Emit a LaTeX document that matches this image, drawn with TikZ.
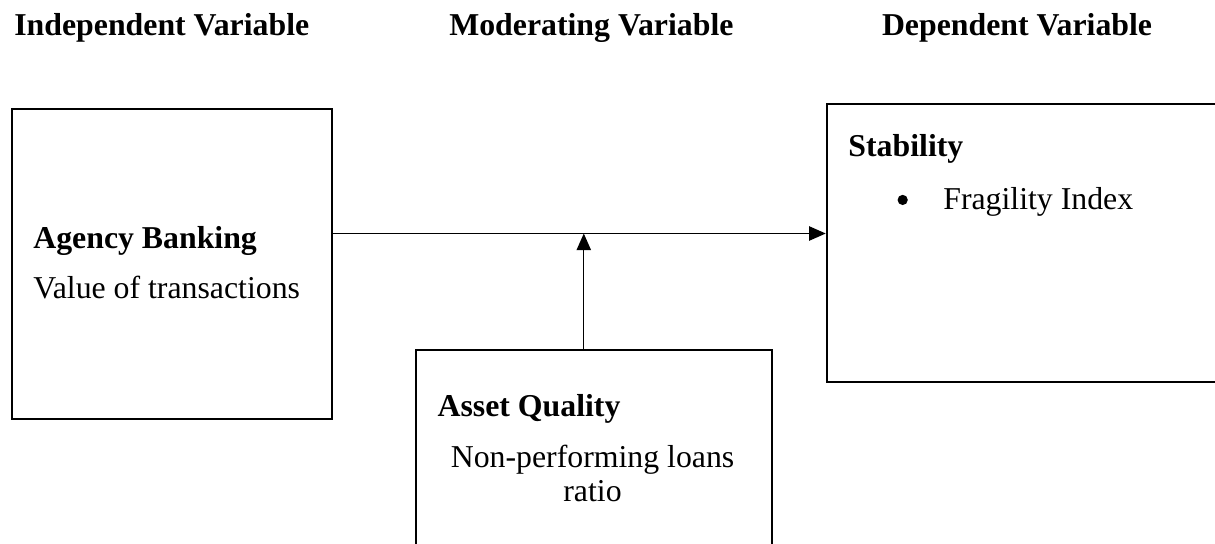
\documentclass[tikz,border=0pt]{standalone}
\usepackage{fontspec}
\setmainfont{Liberation Serif}
\usetikzlibrary{arrows.meta}

\tikzset{
  varbox/.style={draw, line width=0.8pt, inner sep=0pt},
  head/.style={anchor=base west, inner sep=0pt, font=\fontsize{12.4}{14}\selectfont\bfseries},
  txt/.style={anchor=base west, inner sep=0pt, font=\fontsize{12.4}{14}\selectfont},
  dot/.style={circle, fill, inner sep=0pt, minimum size=0.14cm},
  arr/.style={line width=0.5pt, -{Triangle[length=6.5pt,width=5.6pt]}}
}

\begin{document}
\begin{tikzpicture}
    \useasboundingbox (0,0) rectangle (16.65,7.45);
    \clip (0,0) rectangle (16.65,7.45);

    % Column headings
    \node[head] (indep) at (0.19,6.96) {Independent Variable};
    \node[head] (moder) at (6.15,6.96) {Moderating Variable};
    \node[head] (dep)   at (12.08,6.96) {Dependent Variable};

    % Boxes
    \node[varbox, minimum width=4.39cm, minimum height=4.25cm] (agency) at (2.355,3.835) {};
    \node[varbox, minimum width=4.88cm, minimum height=3.2cm] (quality) at (8.14,1.06) {};
    \node[varbox, minimum width=5.8cm, minimum height=3.82cm] (stability) at (14.23,4.12) {};

    % Box texts
    \node[head] (agencyT) at (0.45,4.04) {Agency Banking};
    \node[txt] (agencyV) at (0.45,3.36) {Value of transactions};

    \node[head] (qualityT) at (5.99,1.74) {Asset Quality};
    \node[txt, anchor=base] (qualityV1) at (8.12,1.05) {Non-performing loans};
    \node[txt, anchor=base] (qualityV2) at (8.12,0.58) {ratio};

    \node[head] (stabT) at (11.62,5.30) {Stability};
    \node[dot] (bullet) at (12.37,4.71) {};
    \node[txt] (stabV) at (12.92,4.58) {Fragility Index};

    % Arrows
    \coordinate (join) at (8.00,4.25);
    \draw[arr] (agency.east |- join) -- (stability.west |- join);
    \draw[arr] (quality.north -| join) -- (join);

\end{tikzpicture}
\end{document}
